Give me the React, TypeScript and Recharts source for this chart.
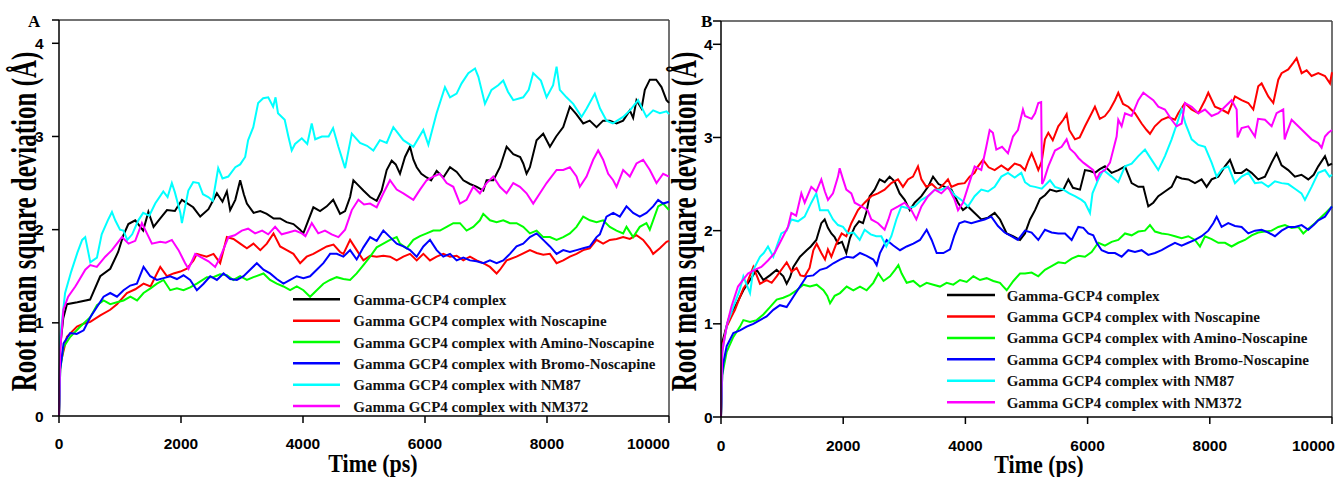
import React from 'react';
import { LineChart, Line, XAxis, YAxis, ReferenceLine } from 'recharts';

type Pt = [number, number];

const xTicks = [0, 2000, 4000, 6000, 8000, 10000];
const yTicks = [0, 1, 2, 3, 4, 4.25];
const yTop = 4.25;
const xMax = 10000;

const seriesNames = [
  'Gamma-GCP4 complex',
  'Gamma GCP4 complex with Noscapine',
  'Gamma GCP4 complex with Amino-Noscapine',
  'Gamma GCP4 complex with Bromo-Noscapine',
  'Gamma GCP4 complex with NM87',
  'Gamma GCP4 complex with NM372',
];
const seriesColors = ['#000000', '#ff0000', '#00ff00', '#0000ff', '#00ffff', '#ff00ff'];

// ---------- Panel A ----------
const aBlack: Pt[] = [[0,0],[20,0.75],[70,1.05],[130,1.2],[300,1.22],[510,1.25],[676,1.5],[840,1.58],[970,1.76],[1055,1.94],[1137,2.06],[1250,2.1],[1380,1.99],[1465,2.19],[1550,2.03],[1660,2.12],[1770,2.21],[1900,2.2],[2015,2.32],[2200,2.24],[2315,2.14],[2450,2.22],[2588,2.39],[2680,2.3],[2752,2.41],[2806,2.21],[2890,2.32],[2970,2.53],[3030,2.38],[3080,2.28],[3190,2.18],[3300,2.2],[3406,2.17],[3520,2.12],[3625,2.12],[3730,2.08],[3843,2.06],[3952,2.0],[4005,1.96],[4170,2.24],[4280,2.2],[4390,2.25],[4495,2.32],[4607,2.17],[4690,2.2],[4772,2.35],[4826,2.53],[4900,2.48],[4990,2.42],[5100,2.35],[5208,2.31],[5290,2.42],[5372,2.64],[5454,2.74],[5520,2.7],[5590,2.6],[5672,2.78],[5754,2.89],[5810,2.75],[5864,2.67],[5940,2.6],[6027,2.56],[6100,2.53],[6191,2.63],[6300,2.56],[6410,2.67],[6520,2.62],[6628,2.53],[6737,2.49],[6850,2.46],[6956,2.42],[7010,2.53],[7120,2.53],[7229,2.67],[7338,2.89],[7447,2.81],[7560,2.78],[7611,2.71],[7665,2.6],[7720,2.67],[7829,2.96],[7938,3.03],[8048,2.89],[8150,3.0],[8266,3.1],[8375,3.32],[8480,3.24],[8594,3.14],[8700,3.17],[8812,3.1],[8920,3.17],[9030,3.17],[9140,3.14],[9248,3.17],[9358,3.28],[9412,3.2],[9467,3.39],[9550,3.3],[9604,3.5],[9686,3.61],[9790,3.61],[9877,3.53],[9959,3.39],[10000,3.36]];
const aRed: Pt[] = [[0,0],[20,0.55],[130,0.85],[295,0.96],[400,0.99],[513,1.01],[677,1.08],[840,1.14],[950,1.2],[1113,1.32],[1250,1.36],[1386,1.42],[1500,1.39],[1605,1.53],[1660,1.6],[1770,1.5],[1878,1.53],[1990,1.55],[2096,1.58],[2205,1.67],[2260,1.74],[2420,1.71],[2533,1.74],[2642,1.64],[2752,1.92],[2860,1.9],[2970,1.85],[3080,1.8],[3188,1.85],[3300,1.78],[3407,1.85],[3516,1.96],[3625,1.82],[3734,1.78],[3843,1.74],[3953,1.64],[4060,1.71],[4170,1.74],[4280,1.78],[4390,1.82],[4500,1.84],[4608,1.76],[4662,1.74],[4772,1.89],[4880,1.78],[4990,1.67],[5100,1.72],[5208,1.71],[5317,1.72],[5427,1.71],[5536,1.67],[5645,1.71],[5754,1.74],[5864,1.67],[5973,1.74],[6082,1.67],[6191,1.71],[6300,1.74],[6410,1.71],[6519,1.72],[6628,1.67],[6737,1.71],[6846,1.67],[6956,1.64],[7065,1.6],[7174,1.53],[7229,1.57],[7338,1.67],[7500,1.71],[7720,1.78],[7830,1.75],[7938,1.73],[8048,1.74],[8157,1.64],[8266,1.67],[8375,1.71],[8484,1.74],[8594,1.78],[8700,1.8],[8812,1.89],[8920,1.85],[9030,1.89],[9140,1.9],[9248,1.92],[9358,1.9],[9467,1.94],[9576,1.89],[9686,1.8],[9740,1.74],[9850,1.8],[9959,1.87],[10000,1.88]];
const aGreen: Pt[] = [[0,0],[20,0.5],[75,0.74],[185,0.85],[350,0.96],[513,1.06],[622,1.19],[731,1.24],[840,1.2],[950,1.22],[1058,1.24],[1170,1.28],[1280,1.24],[1386,1.32],[1500,1.37],[1605,1.42],[1714,1.46],[1823,1.35],[1933,1.37],[2041,1.35],[2150,1.38],[2260,1.42],[2424,1.49],[2530,1.49],[2640,1.52],[2752,1.51],[2860,1.46],[2970,1.5],[3080,1.46],[3188,1.49],[3352,1.53],[3460,1.46],[3570,1.42],[3680,1.39],[3789,1.35],[3898,1.39],[4007,1.35],[4116,1.28],[4225,1.35],[4334,1.42],[4444,1.46],[4553,1.49],[4662,1.47],[4772,1.46],[4880,1.53],[4990,1.62],[5100,1.71],[5208,1.81],[5317,1.85],[5427,1.89],[5536,1.92],[5590,1.85],[5700,1.8],[5809,1.89],[5918,1.93],[6027,1.96],[6136,1.99],[6245,1.99],[6355,2.03],[6464,2.07],[6573,2.07],[6682,1.99],[6792,2.03],[6900,2.1],[6955,2.17],[7065,2.1],[7174,2.08],[7283,2.1],[7392,2.07],[7501,2.07],[7610,2.03],[7720,1.96],[7829,1.99],[7938,1.92],[8048,1.92],[8157,1.89],[8266,1.92],[8375,1.96],[8484,2.03],[8593,2.14],[8703,2.1],[8812,2.08],[8920,2.1],[9030,2.03],[9139,1.99],[9248,1.96],[9303,2.03],[9412,1.92],[9521,2.03],[9630,2.07],[9685,2.0],[9740,2.1],[9822,2.25],[9904,2.28],[10000,2.21]];
const aBlue: Pt[] = [[0,0],[20,0.5],[75,0.78],[185,0.89],[290,0.88],[404,0.92],[513,1.06],[622,1.17],[731,1.28],[840,1.32],[950,1.28],[1058,1.35],[1168,1.4],[1277,1.42],[1386,1.6],[1496,1.5],[1605,1.46],[1714,1.48],[1823,1.5],[1933,1.47],[2041,1.51],[2150,1.46],[2260,1.35],[2370,1.42],[2479,1.5],[2588,1.46],[2697,1.53],[2806,1.47],[2916,1.46],[3025,1.5],[3133,1.57],[3243,1.64],[3352,1.57],[3461,1.53],[3570,1.47],[3680,1.42],[3789,1.46],[3898,1.5],[4007,1.48],[4116,1.5],[4225,1.57],[4334,1.64],[4444,1.74],[4553,1.74],[4662,1.71],[4772,1.78],[4880,1.68],[4990,1.81],[5100,1.92],[5208,1.88],[5317,1.99],[5427,1.92],[5536,1.85],[5645,1.82],[5754,1.78],[5864,1.71],[5973,1.82],[6082,1.89],[6191,1.78],[6300,1.71],[6410,1.74],[6519,1.67],[6628,1.7],[6737,1.67],[6846,1.66],[6956,1.64],[7065,1.67],[7174,1.64],[7283,1.67],[7392,1.74],[7501,1.82],[7610,1.85],[7720,1.92],[7829,1.96],[7938,1.89],[8048,1.82],[8157,1.74],[8266,1.78],[8375,1.76],[8484,1.78],[8594,1.8],[8703,1.82],[8812,1.92],[8866,1.95],[8975,2.14],[9085,2.18],[9194,2.14],[9303,2.25],[9412,2.18],[9521,2.14],[9630,2.18],[9740,2.25],[9822,2.32],[9904,2.28],[10000,2.3]];
const aCyan: Pt[] = [[0,0],[20,0.85],[100,1.32],[200,1.55],[300,1.75],[380,1.89],[430,1.92],[513,1.65],[622,1.7],[700,1.95],[800,2.1],[868,2.19],[922,2.1],[1000,2.0],[1055,1.99],[1120,1.89],[1200,1.95],[1300,2.1],[1380,2.18],[1480,2.15],[1577,2.28],[1710,2.41],[1780,2.35],[1850,2.5],[1900,2.4],[1990,2.18],[2015,2.07],[2120,2.42],[2200,2.51],[2290,2.5],[2360,2.38],[2447,2.35],[2520,2.31],[2610,2.66],[2680,2.55],[2775,2.57],[2890,2.67],[2970,2.7],[3052,2.78],[3100,2.96],[3185,3.1],[3265,3.36],[3347,3.41],[3430,3.42],[3510,3.32],[3550,3.42],[3590,3.25],[3700,3.18],[3760,3.0],[3815,2.85],[3870,2.92],[3980,2.98],[4070,2.92],[4143,3.14],[4200,2.97],[4310,3.0],[4420,3.0],[4493,3.09],[4580,2.89],[4690,2.66],[4800,3.03],[4935,2.93],[5050,2.9],[5153,2.85],[5260,2.96],[5372,2.93],[5481,3.1],[5645,2.96],[5809,2.89],[5972,3.07],[6055,2.91],[6190,3.25],[6327,3.53],[6410,3.42],[6518,3.46],[6600,3.57],[6710,3.68],[6820,3.73],[6875,3.64],[6983,3.35],[7090,3.5],[7200,3.55],[7283,3.6],[7360,3.48],[7447,3.39],[7610,3.42],[7700,3.5],[7774,3.68],[7900,3.6],[7993,3.42],[8100,3.55],[8157,3.75],[8210,3.5],[8320,3.42],[8430,3.35],[8566,3.21],[8650,3.3],[8784,3.46],[8870,3.3],[8976,3.17],[9080,3.14],[9248,3.21],[9360,3.28],[9494,3.39],[9630,3.21],[9740,3.28],[9850,3.25],[9960,3.27],[10000,3.24]];
const aMagenta: Pt[] = [[0,0],[20,0.7],[72,1.14],[150,1.28],[267,1.39],[295,1.42],[431,1.57],[513,1.62],[620,1.6],[758,1.71],[868,1.78],[950,1.85],[1032,1.92],[1140,1.85],[1250,1.88],[1359,2.07],[1441,1.96],[1523,1.85],[1660,1.87],[1750,1.86],[1850,1.89],[1960,1.78],[2068,1.64],[2123,1.58],[2233,1.74],[2340,1.7],[2450,1.66],[2560,1.6],[2640,1.7],[2778,1.92],[2880,1.94],[2997,1.99],[3100,2.01],[3215,1.96],[3330,1.99],[3430,1.95],[3543,2.03],[3650,1.95],[3760,1.97],[3871,1.99],[3980,1.96],[4040,1.93],[4144,2.07],[4250,1.96],[4360,1.99],[4470,1.95],[4580,1.92],[4690,2.0],[4800,2.21],[4908,2.32],[5000,2.27],[5100,2.28],[5208,2.24],[5317,2.39],[5426,2.53],[5536,2.43],[5645,2.39],[5809,2.32],[5918,2.43],[6027,2.53],[6136,2.57],[6245,2.6],[6355,2.5],[6464,2.46],[6573,2.28],[6682,2.32],[6792,2.46],[6900,2.39],[7010,2.5],[7119,2.57],[7228,2.46],[7337,2.39],[7447,2.5],[7556,2.46],[7665,2.39],[7774,2.28],[7884,2.39],[7993,2.5],[8157,2.64],[8266,2.64],[8375,2.67],[8484,2.57],[8538,2.46],[8648,2.57],[8757,2.75],[8839,2.85],[8920,2.75],[9003,2.6],[9085,2.53],[9139,2.46],[9248,2.64],[9358,2.57],[9467,2.71],[9576,2.75],[9686,2.64],[9795,2.5],[9904,2.6],[10000,2.57]];

// ---------- Panel B ----------
const bBlack: Pt[] = [[0,0],[20,0.8],[93,0.98],[150,1.1],[260,1.22],[366,1.36],[475,1.47],[584,1.58],[693,1.47],[800,1.52],[911,1.58],[1020,1.51],[1075,1.43],[1130,1.5],[1184,1.61],[1293,1.72],[1402,1.79],[1470,1.83],[1560,1.9],[1642,2.08],[1697,2.12],[1750,2.03],[1806,1.97],[1860,1.93],[1915,1.86],[1980,1.88],[2051,1.76],[2110,1.92],[2188,2.04],[2260,2.1],[2324,2.08],[2380,2.2],[2433,2.37],[2515,2.44],[2597,2.55],[2680,2.52],[2760,2.58],[2840,2.53],[2924,2.4],[3006,2.33],[3090,2.22],[3170,2.3],[3280,2.37],[3388,2.47],[3470,2.58],[3560,2.5],[3660,2.47],[3770,2.44],[3879,2.3],[3960,2.22],[4040,2.26],[4151,2.19],[4260,2.12],[4370,2.14],[4479,2.19],[4567,2.12],[4676,1.97],[4780,1.94],[4894,1.9],[4975,1.97],[5058,2.12],[5140,2.22],[5221,2.34],[5302,2.38],[5385,2.44],[5490,2.42],[5603,2.44],[5685,2.55],[5760,2.46],[5876,2.44],[5957,2.65],[6039,2.64],[6120,2.62],[6200,2.66],[6284,2.69],[6393,2.62],[6502,2.65],[6612,2.69],[6666,2.6],[6721,2.51],[6830,2.47],[6912,2.47],[6993,2.26],[7075,2.3],[7157,2.37],[7266,2.42],[7375,2.47],[7457,2.58],[7540,2.56],[7648,2.55],[7757,2.51],[7866,2.55],[7948,2.47],[8030,2.55],[8139,2.58],[8248,2.69],[8330,2.76],[8412,2.62],[8521,2.62],[8600,2.66],[8684,2.62],[8793,2.55],[8903,2.58],[9012,2.73],[9093,2.83],[9175,2.7],[9284,2.65],[9393,2.58],[9500,2.6],[9612,2.55],[9700,2.6],[9775,2.69],[9885,2.8],[9940,2.7],[10000,2.72]];
const bRed: Pt[] = [[0,0],[20,0.75],[93,0.97],[175,1.08],[229,1.15],[311,1.29],[366,1.38],[420,1.43],[475,1.52],[529,1.61],[584,1.52],[638,1.43],[747,1.47],[830,1.44],[911,1.51],[1020,1.61],[1075,1.66],[1157,1.56],[1238,1.6],[1300,1.52],[1369,1.51],[1450,1.6],[1511,1.79],[1566,1.86],[1642,1.76],[1702,1.69],[1750,1.8],[1806,1.72],[1888,1.86],[1975,1.97],[2051,1.94],[2133,2.08],[2242,2.22],[2351,2.3],[2460,2.37],[2570,2.4],[2678,2.44],[2788,2.51],[2897,2.55],[2978,2.47],[3060,2.55],[3142,2.58],[3224,2.69],[3280,2.55],[3360,2.47],[3450,2.5],[3551,2.44],[3660,2.51],[3715,2.55],[3770,2.47],[3880,2.5],[3988,2.51],[4070,2.58],[4150,2.62],[4206,2.69],[4288,2.76],[4380,2.68],[4479,2.65],[4588,2.7],[4697,2.65],[4806,2.72],[4900,2.7],[4975,2.65],[5030,2.75],[5084,2.83],[5140,2.74],[5193,2.65],[5248,2.74],[5302,2.98],[5357,3.05],[5430,2.97],[5520,3.12],[5602,3.19],[5657,3.25],[5700,3.08],[5793,2.98],[5870,3.0],[5957,3.12],[6066,3.26],[6120,3.33],[6200,3.2],[6284,3.23],[6366,3.3],[6448,3.4],[6502,3.48],[6580,3.36],[6666,3.33],[6775,3.26],[6884,3.15],[6966,3.08],[7021,3.04],[7100,3.12],[7212,3.19],[7320,3.22],[7430,3.19],[7484,3.26],[7593,3.37],[7700,3.3],[7812,3.26],[7921,3.4],[7975,3.48],[8084,3.33],[8193,3.3],[8302,3.26],[8412,3.44],[8520,3.4],[8630,3.37],[8712,3.3],[8793,3.55],[8848,3.58],[8957,3.44],[9039,3.37],[9121,3.62],[9175,3.69],[9284,3.73],[9366,3.8],[9421,3.85],[9503,3.69],[9585,3.72],[9666,3.66],[9775,3.69],[9885,3.66],[9967,3.58],[10000,3.7]];
const bGreen: Pt[] = [[0,0],[20,0.45],[93,0.7],[202,0.86],[311,0.97],[366,1.04],[475,1.02],[584,1.04],[693,1.1],[802,1.18],[911,1.26],[1020,1.28],[1129,1.31],[1238,1.36],[1347,1.42],[1456,1.4],[1566,1.42],[1676,1.36],[1740,1.3],[1785,1.22],[1860,1.3],[1948,1.33],[2057,1.4],[2166,1.36],[2275,1.4],[2384,1.36],[2493,1.44],[2575,1.54],[2660,1.46],[2766,1.51],[2848,1.58],[2903,1.63],[2957,1.54],[3039,1.44],[3148,1.46],[3257,1.4],[3366,1.44],[3475,1.42],[3584,1.4],[3693,1.44],[3802,1.42],[3912,1.47],[4021,1.45],[4130,1.51],[4239,1.47],[4348,1.49],[4457,1.46],[4566,1.44],[4621,1.4],[4676,1.36],[4785,1.46],[4894,1.54],[4975,1.54],[5084,1.55],[5193,1.51],[5302,1.58],[5411,1.62],[5520,1.66],[5630,1.65],[5739,1.7],[5848,1.73],[5957,1.72],[6066,1.77],[6175,1.87],[6284,1.84],[6393,1.88],[6502,1.9],[6612,1.97],[6721,1.95],[6830,1.99],[6939,2.0],[7021,2.06],[7103,1.99],[7212,1.97],[7320,1.96],[7430,1.94],[7539,1.92],[7648,1.94],[7757,1.9],[7839,1.83],[7921,1.94],[8030,1.91],[8139,1.87],[8248,1.87],[8357,1.83],[8466,1.87],[8575,1.9],[8685,1.95],[8794,1.98],[8903,1.99],[9012,2.0],[9121,2.04],[9230,2.06],[9339,2.03],[9448,2.04],[9530,1.97],[9612,2.02],[9721,2.08],[9830,2.15],[9912,2.2],[10000,2.26]];
const bBlue: Pt[] = [[0,0],[20,0.45],[38,0.58],[93,0.76],[202,0.9],[311,0.93],[420,0.97],[529,1.0],[638,1.04],[747,1.08],[856,1.15],[965,1.2],[1075,1.18],[1184,1.29],[1293,1.4],[1402,1.51],[1511,1.52],[1620,1.58],[1730,1.6],[1839,1.65],[1948,1.69],[2057,1.72],[2166,1.71],[2275,1.76],[2384,1.73],[2493,1.69],[2548,1.63],[2602,1.76],[2711,1.9],[2820,1.84],[2930,1.79],[3039,1.83],[3148,1.86],[3257,1.9],[3366,2.01],[3448,1.9],[3530,1.76],[3639,1.76],[3748,1.8],[3820,1.95],[3900,2.08],[3988,2.1],[4097,2.08],[4206,2.1],[4315,2.12],[4424,2.15],[4533,2.05],[4642,1.98],[4751,1.94],[4860,1.9],[4975,2.0],[5084,1.98],[5193,1.9],[5302,2.01],[5411,1.98],[5520,1.97],[5630,1.97],[5739,1.9],[5848,2.04],[5930,2.03],[6011,1.97],[6093,1.95],[6148,1.87],[6230,1.79],[6339,1.76],[6448,1.76],[6557,1.72],[6666,1.79],[6775,1.77],[6884,1.79],[6993,1.74],[7103,1.76],[7212,1.79],[7320,1.83],[7430,1.87],[7539,1.84],[7648,1.87],[7757,1.9],[7866,1.94],[7975,2.0],[8057,2.08],[8112,2.15],[8193,2.04],[8302,2.08],[8412,2.05],[8521,2.04],[8630,1.97],[8739,2.0],[8848,2.01],[8957,1.98],[9066,1.94],[9175,2.0],[9284,2.04],[9393,2.04],[9503,2.06],[9612,2.01],[9700,2.06],[9775,2.11],[9885,2.15],[10000,2.26]];
const bCyan: Pt[] = [[0,0],[20,0.7],[100,1.0],[200,1.18],[300,1.35],[366,1.51],[475,1.33],[529,1.58],[638,1.72],[700,1.76],[769,1.83],[856,1.72],[911,1.83],[987,1.97],[1075,2.0],[1151,2.12],[1260,2.1],[1369,2.15],[1478,2.3],[1560,2.4],[1620,2.22],[1751,2.22],[1833,2.12],[1915,2.06],[1997,2.04],[2078,1.97],[2170,1.98],[2270,1.9],[2351,2.01],[2450,1.96],[2542,1.94],[2624,1.94],[2706,1.83],[2788,1.94],[2870,2.12],[2951,2.26],[3060,2.24],[3170,2.26],[3280,2.33],[3388,2.37],[3500,2.44],[3606,2.44],[3715,2.47],[3824,2.38],[3933,2.33],[4042,2.26],[4151,2.37],[4260,2.44],[4370,2.42],[4479,2.47],[4588,2.58],[4697,2.62],[4806,2.57],[4915,2.62],[4975,2.52],[5058,2.48],[5139,2.47],[5250,2.45],[5385,2.54],[5466,2.47],[5603,2.44],[5700,2.4],[5793,2.37],[5900,2.33],[5957,2.3],[6039,2.19],[6080,2.4],[6175,2.55],[6258,2.65],[6393,2.58],[6502,2.52],[6612,2.69],[6721,2.72],[6830,2.8],[6939,2.87],[7048,2.76],[7157,2.65],[7266,2.8],[7375,2.98],[7484,3.19],[7539,3.3],[7600,3.15],[7703,2.98],[7812,2.92],[7921,2.9],[8030,2.73],[8112,2.58],[8200,2.66],[8302,2.69],[8412,2.51],[8521,2.58],[8630,2.62],[8739,2.51],[8848,2.52],[8957,2.47],[9066,2.53],[9175,2.51],[9284,2.5],[9393,2.45],[9500,2.4],[9557,2.33],[9666,2.47],[9775,2.62],[9885,2.65],[9960,2.58],[10000,2.6]];
const bMagenta: Pt[] = [[0,0],[20,0.7],[100,1.0],[169,1.18],[278,1.4],[442,1.54],[551,1.58],[660,1.61],[769,1.68],[878,1.76],[987,1.9],[1096,2.04],[1151,2.19],[1230,2.16],[1315,2.4],[1370,2.3],[1478,2.47],[1560,2.42],[1642,2.55],[1700,2.42],[1751,2.33],[1833,2.4],[1915,2.58],[1942,2.67],[1997,2.55],[2051,2.44],[2133,2.4],[2188,2.3],[2297,2.26],[2400,2.22],[2460,2.12],[2570,2.08],[2678,2.01],[2740,2.12],[2788,2.22],[2900,2.26],[3006,2.3],[3115,2.22],[3197,2.12],[3280,2.26],[3388,2.37],[3500,2.44],[3606,2.4],[3715,2.47],[3824,2.33],[3879,2.22],[3960,2.3],[4097,2.58],[4151,2.69],[4260,2.65],[4342,2.9],[4397,3.08],[4450,3.05],[4506,2.87],[4600,2.9],[4697,2.83],[4779,3.01],[4860,3.08],[4942,3.3],[4975,3.23],[5084,3.2],[5140,3.26],[5193,3.37],[5240,3.38],[5255,2.5],[5290,2.55],[5357,2.69],[5466,2.86],[5575,2.9],[5657,2.98],[5710,2.88],[5793,2.83],[5850,2.78],[5930,2.73],[6011,2.69],[6093,2.65],[6148,2.55],[6200,2.62],[6284,2.65],[6366,2.73],[6475,3.01],[6502,3.19],[6557,3.12],[6612,3.26],[6721,3.23],[6830,3.4],[6912,3.48],[6993,3.44],[7075,3.4],[7157,3.33],[7266,3.3],[7375,3.19],[7457,3.12],[7539,3.15],[7593,3.37],[7703,3.33],[7812,3.26],[7921,3.3],[8030,3.23],[8139,3.26],[8248,3.33],[8357,3.4],[8440,3.3],[8455,3.0],[8520,3.1],[8630,3.12],[8739,3.01],[8790,3.2],[8903,3.19],[9012,3.12],[9093,3.26],[9202,3.3],[9225,2.98],[9260,3.05],[9339,3.19],[9448,3.12],[9557,3.05],[9666,2.98],[9775,2.94],[9830,2.89],[9885,3.01],[9940,3.05],[10000,3.08]];

const panelA: Pt[][] = [aBlack, aRed, aGreen, aBlue, aCyan, aMagenta];
const panelB: Pt[][] = [bBlack, bRed, bGreen, bBlue, bCyan, bMagenta];

const toRows = (pts: Pt[]) => pts.map(([t, v]) => ({ t, v }));

const SANS = "'Liberation Sans', Arial, sans-serif";
const SERIF = "'Liberation Serif', 'Times New Roman', serif";

const makeXTick = (lastDx: number) => (props: any) => {
  const { x, y, payload } = props;
  const isLast = payload.value === xMax;
  return (
    <text
      x={isLast ? x + lastDx : x}
      y={y}
      dy="0.71em"
      textAnchor={isLast ? 'end' : 'middle'}
      fontFamily={SANS}
      fontWeight="bold"
      fontSize={15.5}
      fill="#000"
    >
      {payload.value}
    </text>
  );
};

const YTick = (props: any) => {
  const { x, y, payload } = props;
  if (payload.value === yTop) return <g />;
  return (
    <text
      x={x}
      y={y}
      dy="0.36em"
      textAnchor="end"
      fontFamily={SANS}
      fontWeight="bold"
      fontSize={15.5}
      fill="#000"
    >
      {payload.value}
    </text>
  );
};

interface PanelProps {
  series: Pt[][];
  left: number;
  width: number;
  top: number;
  bottomH: number;
  right: number;
  yTickSize: number;
  yTickMargin: number;
  xTickMargin: number;
  lastDx: number;
}

const Panel = ({ series, left, width, top, bottomH, right, yTickSize, yTickMargin, xTickMargin, lastDx }: PanelProps) => (
  <div style={{ position: 'absolute', left, top: 0, width, height: 477 }}>
    <LineChart width={width} height={477} margin={{ top, right, bottom: 0, left: 0 }}>
      <XAxis
        type="number"
        dataKey="t"
        domain={[0, xMax]}
        ticks={xTicks}
        interval={0}
        height={bottomH}
        tickSize={7}
        tickMargin={xTickMargin}
        stroke="#000"
        strokeWidth={1.5}
        tick={makeXTick(lastDx)}
        allowDuplicatedCategory={false}
      />
      <YAxis
        type="number"
        domain={[0, yTop]}
        ticks={yTicks}
        interval={0}
        width={59}
        tickSize={yTickSize}
        tickMargin={yTickMargin}
        stroke="#000"
        strokeWidth={1.5}
        tick={<YTick />}
      />
      <ReferenceLine y={yTop} stroke="#444" strokeWidth={1.5} />
      <ReferenceLine x={xMax} stroke="#444" strokeWidth={1.5} />
      {series.map((pts, i) => (
        <Line
          key={seriesNames[i]}
          name={seriesNames[i]}
          data={toRows(pts)}
          dataKey="v"
          type="linear"
          stroke={seriesColors[i]}
          strokeWidth={2}
          dot={false}
          activeDot={false}
          isAnimationActive={false}
        />
      ))}
    </LineChart>
  </div>
);

const LegendBlock = ({ x1, x2, tx, y0, dy }: { x1: number; x2: number; tx: number; y0: number; dy: number }) => (
  <g>
    {seriesNames.map((name, i) => (
      <g key={name}>
        <line x1={x1} x2={x2} y1={y0 + i * dy} y2={y0 + i * dy} stroke={seriesColors[i]} strokeWidth={2.5} />
        <text x={tx} y={y0 + i * dy + 5.5} fontFamily={SERIF} fontWeight="bold" fontSize={15} fill="#111">
          {name}
        </text>
      </g>
    ))}
  </g>
);

const YTitle = ({ bx, cy }: { bx: number; cy: number }) => (
  <text
    x={0}
    y={0}
    transform={`translate(${bx} ${cy}) scale(1.42 1) rotate(-90)`}
    textAnchor="middle"
    fontFamily={SERIF}
    fontWeight="bold"
    fontSize={25}
    fill="#000"
  >
    Root mean square deviation (Å)
  </text>
);

const XTitle = ({ cx, by }: { cx: number; by: number }) => (
  <text
    x={0}
    y={0}
    transform={`translate(${cx} ${by}) scale(1 1.14)`}
    textAnchor="middle"
    fontFamily={SERIF}
    fontWeight="bold"
    fontSize={22}
    fill="#000"
  >
    Time (ps)
  </text>
);

export default function App() {
  return (
    <div style={{ position: 'absolute', left: 0, top: 0, width: 1338, height: 477, background: '#fff', overflow: 'hidden' }}>
      <Panel series={panelA} left={0} width={672} top={20} bottomH={61} right={3} yTickSize={7} yTickMargin={8.5} xTickMargin={15} lastDx={1} />
      <Panel series={panelB} left={662} width={675} top={21} bottomH={60} right={5} yTickSize={8} yTickMargin={0.5} xTickMargin={16} lastDx={3} />
      <svg width={1338} height={477} style={{ position: 'absolute', left: 0, top: 0, pointerEvents: 'none' }}>
        <text x={28} y={27} fontFamily={SERIF} fontWeight="bold" fontSize={17} fill="#000">A</text>
        <text x={701} y={27} fontFamily={SERIF} fontWeight="bold" fontSize={17} fill="#000">B</text>
        <YTitle bx={36} cy={221.5} />
        <YTitle bx={696} cy={221.5} />
        <XTitle cx={373} by={471.5} />
        <XTitle cx={1039} by={472.5} />
        <LegendBlock x1={293} x2={340} tx={353.3} y0={299.3} dy={21.35} />
        <LegendBlock x1={947} x2={995} tx={1006.7} y0={295} dy={21.45} />
      </svg>
    </div>
  );
}
